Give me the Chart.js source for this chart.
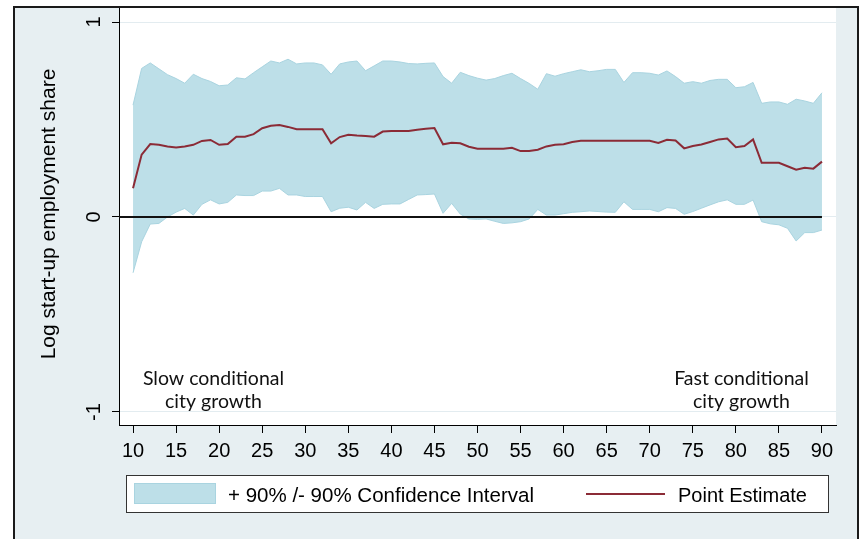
<!DOCTYPE html>
<html>
<head>
<meta charset="utf-8">
<script src="https://cdn.jsdelivr.net/npm/chart.js@4.4.0/dist/chart.umd.min.js"></script>
<style>
  html, body { margin: 0; padding: 0; background: #fff; }
  #wrap { position: relative; width: 862px; height: 539px; }
</style>
</head>
<body>
<div id="wrap"><canvas id="chart" width="862" height="539"></canvas></div>
<script>
// percentile of conditional city growth
var xs = [10, 11, 12, 13, 14, 15, 16, 17, 18, 19,
          20, 21, 22, 23, 24, 25, 26, 27, 28, 29,
          30, 31, 32, 33, 34, 35, 36, 37, 38, 39,
          40, 41, 42, 43, 44, 45, 46, 47, 48, 49,
          50, 51, 52, 53, 54, 55, 56, 57, 58, 59,
          60, 61, 62, 63, 64, 65, 66, 67, 68, 69,
          70, 71, 72, 73, 74, 75, 76, 77, 78, 79,
          80, 81, 82, 83, 84, 85, 86, 87, 88, 89,
          90];

var pointEst = [0.147, 0.32, 0.374, 0.37, 0.362, 0.357, 0.362, 0.37, 0.39, 0.395,
                0.37, 0.374, 0.412, 0.412, 0.425, 0.455, 0.468, 0.472, 0.462, 0.45,
                0.45, 0.45, 0.45, 0.378, 0.41, 0.422, 0.418, 0.415, 0.412, 0.438,
                0.441, 0.441, 0.441, 0.448, 0.452, 0.456, 0.373, 0.381, 0.378, 0.36,
                0.35, 0.35, 0.35, 0.35, 0.355, 0.338, 0.338, 0.345, 0.362, 0.37,
                0.373, 0.385, 0.391, 0.391, 0.391, 0.391, 0.391, 0.391, 0.391, 0.391,
                0.391, 0.38, 0.396, 0.392, 0.352, 0.364, 0.372, 0.385, 0.398, 0.402,
                0.358, 0.364, 0.398, 0.278, 0.278, 0.278, 0.26, 0.243, 0.253, 0.248,
                0.284];

var upper = [0.574, 0.762, 0.79, 0.76, 0.73, 0.71, 0.686, 0.732, 0.71, 0.695,
             0.673, 0.677, 0.714, 0.708, 0.74, 0.77, 0.80, 0.79, 0.809, 0.785,
             0.79, 0.79, 0.78, 0.732, 0.785, 0.795, 0.80, 0.75, 0.775, 0.80,
             0.80, 0.795, 0.787, 0.785, 0.788, 0.79, 0.72, 0.686, 0.742, 0.725,
             0.712, 0.702, 0.71, 0.725, 0.737, 0.71, 0.685, 0.655, 0.735, 0.722,
             0.735, 0.745, 0.755, 0.745, 0.75, 0.757, 0.757, 0.69, 0.74, 0.74,
             0.737, 0.728, 0.749, 0.72, 0.686, 0.694, 0.686, 0.70, 0.706, 0.706,
             0.663, 0.668, 0.69, 0.583, 0.59, 0.59, 0.578, 0.604, 0.595, 0.583,
             0.637];

var lower = [-0.286, -0.127, -0.036, -0.033, 0.0, 0.025, 0.044, 0.01, 0.065, 0.088,
             0.067, 0.075, 0.113, 0.11, 0.11, 0.133, 0.133, 0.147, 0.113, 0.113,
             0.105, 0.105, 0.105, 0.027, 0.045, 0.05, 0.036, 0.075, 0.044, 0.065,
             0.067, 0.067, 0.09, 0.113, 0.115, 0.118, 0.019, 0.07, 0.015, -0.01,
             -0.012, -0.01, -0.022, -0.033, -0.03, -0.024, -0.01, 0.039, 0.01, 0.01,
             0.017, 0.024, 0.027, 0.031, 0.028, 0.025, 0.024, 0.078, 0.039, 0.039,
             0.039, 0.027, 0.048, 0.044, 0.014, 0.028, 0.045, 0.062, 0.078, 0.088,
             0.065, 0.065, 0.087, -0.024, -0.035, -0.04, -0.058, -0.123, -0.08, -0.08,
             -0.067];

var xTicks = [10, 15, 20, 25, 30, 35, 40, 45, 50, 55, 60, 65, 70, 75, 80, 85, 90];
var yTicks = [-1, 0, 1];
var yTitle = "Log start-up employment share";
var slowNote = ["Slow conditional", "city growth"];
var fastNote = ["Fast conditional", "city growth"];
var bandLabel = "+ 90% /- 90% Confidence Interval";
var lineLabel = "Point Estimate";

var bandFill = '#bddfe8';
var bandEdge = '#a9d4e0';
var lineColor = '#8b2b36';
var panelBg = '#e7eff2';
var sans = '"Liberation Sans", Arial, sans-serif';

function pts(vals) {
    return xs.map(function (x, i) { return { x: x, y: vals[i] }; });
}

var decor = {
    id: 'decor',
    beforeDraw: function (chart) {
        var c = chart.ctx, a = chart.chartArea;
        c.save();
        c.fillStyle = '#fff';
        c.fillRect(0, 0, chart.width, chart.height);
        c.fillStyle = panelBg;
        c.fillRect(14, 7, 844, chart.height - 7);
        c.fillStyle = '#fff';
        c.fillRect(a.left, a.top, a.right - a.left, a.bottom - a.top);
        c.strokeStyle = '#1a1a1a';
        c.lineWidth = 2;
        c.beginPath();
        c.moveTo(14, chart.height);
        c.lineTo(14, 7);
        c.lineTo(858, 7);
        c.lineTo(858, chart.height);
        c.stroke();
        c.restore();
    },
    afterDatasetsDraw: function (chart) {
        var c = chart.ctx, a = chart.chartArea;
        var xs_ = chart.scales.x, ys_ = chart.scales.y;
        var y0 = ys_.getPixelForValue(0);
        c.save();
        c.strokeStyle = '#111';
        c.lineWidth = 2;
        c.beginPath();
        c.moveTo(a.left, y0);
        c.lineTo(xs_.getPixelForValue(xs[xs.length - 1]), y0);
        c.stroke();
        c.restore();
    },
    afterDraw: function (chart) {
        var c = chart.ctx;
        var ys_ = chart.scales.y;
        c.save();
        c.fillStyle = '#000';

        // rotated y tick labels
        c.font = '20px ' + sans;
        c.textAlign = 'center';
        c.textBaseline = 'alphabetic';
        yTicks.forEach(function (v) {
            c.save();
            c.translate(100, ys_.getPixelForValue(v));
            c.rotate(-Math.PI / 2);
            c.fillText(String(v), 0, 0);
            c.restore();
        });

        // y title
        c.font = '21px ' + sans;
        c.save();
        c.translate(55, 214);
        c.rotate(-Math.PI / 2);
        c.fillText(yTitle, 0, 0);
        c.restore();

        // notes inside the plot
        c.font = '19.5px Lato, "Open Sans", sans-serif';
        c.fillStyle = '#111';
        c.fillText(slowNote[0], 213.5, 384.5);
        c.fillText(slowNote[1], 213.5, 408);
        c.fillText(fastNote[0], 741.5, 384.5);
        c.fillText(fastNote[1], 741.5, 408);

        // legend
        c.fillStyle = '#fff';
        c.fillRect(126, 475, 703, 38);
        c.strokeStyle = '#333';
        c.lineWidth = 1;
        c.strokeRect(126.5, 475.5, 702, 37);
        c.fillStyle = bandFill;
        c.fillRect(134, 483, 82, 21);
        c.strokeStyle = bandEdge;
        c.strokeRect(134.5, 483.5, 81, 20);
        c.strokeStyle = lineColor;
        c.lineWidth = 2;
        c.beginPath();
        c.moveTo(586, 494);
        c.lineTo(665, 494);
        c.stroke();
        c.fillStyle = '#000';
        c.font = '20.5px ' + sans;
        c.textAlign = 'left';
        c.fillText(bandLabel, 228, 501.5);
        c.font = '20px ' + sans;
        c.fillText(lineLabel, 678, 501.5);
        c.restore();
    }
};

var ctx = document.getElementById('chart').getContext('2d');
var chart = new Chart(ctx, {
    type: 'line',
    data: {
        datasets: [
            { label: 'upper', data: pts(upper), borderColor: bandEdge, borderWidth: 1,
              backgroundColor: bandFill, fill: '+1', pointRadius: 0, tension: 0, order: 3 },
            { label: 'lower', data: pts(lower), borderColor: bandEdge, borderWidth: 1,
              fill: false, pointRadius: 0, tension: 0, order: 2 },
            { label: lineLabel, data: pts(pointEst), borderColor: lineColor, borderWidth: 2,
              fill: false, pointRadius: 0, tension: 0, order: 1 }
        ]
    },
    options: {
        responsive: false,
        animation: false,
        devicePixelRatio: 1,
        layout: { padding: { left: 0, top: 8, right: 26, bottom: 0 } },
        plugins: { legend: { display: false }, tooltip: { enabled: false } },
        scales: {
            x: {
                type: 'linear',
                min: 8.37,
                max: 91.63,
                afterBuildTicks: function (s) { s.ticks = xTicks.map(function (v) { return { value: v }; }); },
                afterFit: function (s) { s.height = 114; },
                grid: { drawOnChartArea: false, tickLength: 8, tickColor: '#000' },
                border: { color: '#000', width: 1 },
                ticks: { color: '#000', font: { family: sans, size: 20 }, padding: 6,
                         maxRotation: 0, minRotation: 0, autoSkip: false }
            },
            y: {
                type: 'linear',
                min: -1.0667,
                max: 1.0718,
                afterBuildTicks: function (s) { s.ticks = yTicks.map(function (v) { return { value: v }; }); },
                afterFit: function (s) { s.width = 119; },
                grid: { color: '#e3ecf0', tickColor: '#000', tickLength: 7 },
                border: { color: '#000', width: 1 },
                ticks: { display: false }
            }
        }
    },
    plugins: [decor]
});
</script>
</body>
</html>
